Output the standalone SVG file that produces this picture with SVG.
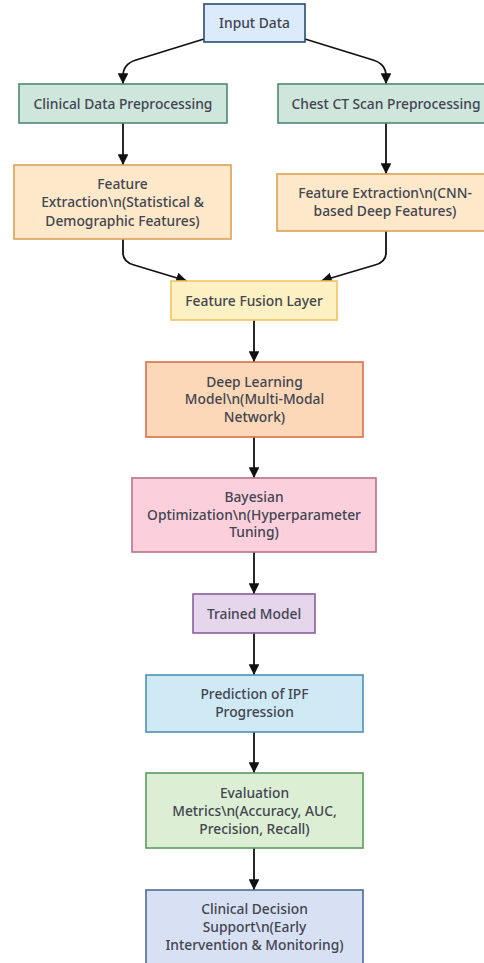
<svg xmlns="http://www.w3.org/2000/svg" width="484" height="963" viewBox="0 0 484 963">
<style>
text{font-family:"Noto Sans","Open Sans",sans-serif;font-size:13.8px;font-weight:500;fill:#42444f;text-anchor:middle}
.b{stroke-width:1.6}
.c{fill:none;stroke:#111;stroke-width:1.8}
</style>
<defs>
<marker id="ah" viewBox="0 0 10 10" refX="10" refY="5" markerWidth="6" markerHeight="6" orient="auto" markerUnits="strokeWidth">
<path d="M0,0 L10,5 L0,10 z" fill="#111"/>
</marker>
</defs>
<rect width="484" height="963" fill="#fff"/>
<g id="connectors">
<path class="c" marker-end="url(#ah)" d="M204,39 L136,60 Q123,64 123,76 L123,84"/>
<path class="c" marker-end="url(#ah)" d="M305,39 L373,60 Q386,64 386,76 L386,84"/>
<path class="c" marker-end="url(#ah)" d="M123,123 L123,165"/>
<path class="c" marker-end="url(#ah)" d="M386,123 L386,174"/>
<path class="c" marker-end="url(#ah)" d="M123,239 L123,253 Q123,262 134,265 L187,281"/>
<path class="c" marker-end="url(#ah)" d="M386,231 L386,253 Q386,262 375,265 L321,281"/>
<path class="c" marker-end="url(#ah)" d="M254,320 L254,362"/>
<path class="c" marker-end="url(#ah)" d="M254,437 L254,478"/>
<path class="c" marker-end="url(#ah)" d="M254,552 L254,594"/>
<path class="c" marker-end="url(#ah)" d="M254,633 L254,675"/>
<path class="c" marker-end="url(#ah)" d="M254,732 L254,773"/>
<path class="c" marker-end="url(#ah)" d="M254,848 L254,890"/>
</g>
<g id="input">
<rect class="b" x="204" y="4" width="101" height="38" fill="#dcebfb" stroke="#2d4a6e"/>
<text x="254.5" y="27.5">Input Data</text>
</g>
<g id="clinical_prep">
<rect class="b" x="19" y="84" width="208" height="39" fill="#cfe6dd" stroke="#4e8a72"/>
<text x="123" y="108.5">Clinical Data Preprocessing</text>
</g>
<g id="ct_prep">
<rect class="b" x="278" y="84" width="210" height="39" fill="#cfe6dd" stroke="#4e8a72"/>
<text x="386" y="108.5">Chest CT Scan Preprocessing</text>
</g>
<g id="feat_clinical">
<rect class="b" x="14" y="165" width="217" height="74" fill="#fde9c9" stroke="#dca055"/>
<text x="122.5" y="188.5">Feature</text>
<text x="122.5" y="207">Extraction\n(Statistical &amp;</text>
<text x="122.5" y="225.5">Demographic Features)</text>
</g>
<g id="feat_ct">
<rect class="b" x="277" y="174" width="211" height="57" fill="#fde9c9" stroke="#dca055"/>
<text x="385" y="197.5">Feature Extraction\n(CNN-</text>
<text x="385" y="215.5">based Deep Features)</text>
</g>
<g id="fusion">
<rect class="b" x="171" y="281" width="166" height="39" fill="#fdf0c3" stroke="#f0c460"/>
<text x="254" y="305.5">Feature Fusion Layer</text>
</g>
<g id="deep">
<rect class="b" x="146" y="362" width="217" height="75" fill="#fcd8b8" stroke="#d9704a"/>
<text x="254.5" y="386.5">Deep Learning</text>
<text x="254.5" y="404">Model\n(Multi-Modal</text>
<text x="254.5" y="421.5">Network)</text>
</g>
<g id="bayes">
<rect class="b" x="132" y="478" width="244" height="74" fill="#fbd0dc" stroke="#b9708c"/>
<text x="254" y="501.5">Bayesian</text>
<text x="254" y="519.5">Optimization\n(Hyperparameter</text>
<text x="254" y="537">Tuning)</text>
</g>
<g id="trained">
<rect class="b" x="193" y="594" width="122" height="39" fill="#e6d6ec" stroke="#8a5f9e"/>
<text x="254" y="618.5">Trained Model</text>
</g>
<g id="prediction">
<rect class="b" x="146" y="675" width="217" height="57" fill="#cfeaf5" stroke="#4f8fb3"/>
<text x="254.5" y="698.5">Prediction of IPF</text>
<text x="254.5" y="716.5">Progression</text>
</g>
<g id="evaluation">
<rect class="b" x="146" y="773" width="217" height="75" fill="#dcefd5" stroke="#5c9a5c"/>
<text x="254.5" y="797.5">Evaluation</text>
<text x="254.5" y="815.5">Metrics\n(Accuracy, AUC,</text>
<text x="254.5" y="833.5">Precision, Recall)</text>
</g>
<g id="decision">
<rect class="b" x="146" y="890" width="217" height="80" fill="#d8e1f3" stroke="#4f6a9a"/>
<text x="254.5" y="913.5">Clinical Decision</text>
<text x="254.5" y="931.5">Support\n(Early</text>
<text x="254.5" y="949.5">Intervention &amp; Monitoring)</text>
</g>
</svg>
